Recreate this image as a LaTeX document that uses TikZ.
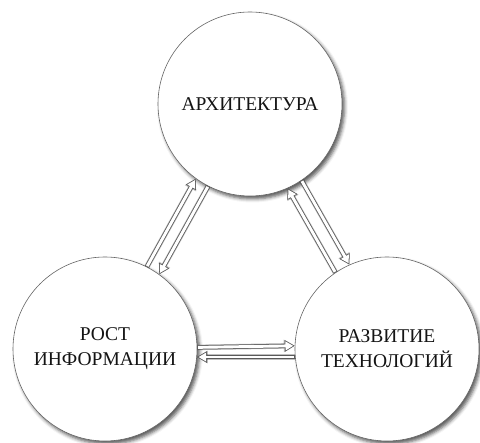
\documentclass[tikz,border=0pt]{standalone}
\usepackage{fontspec}
\setmainfont{Liberation Serif}
\usetikzlibrary{arrows.meta,shadows.blur}
\tikzset{
  bubble/.style={circle, minimum size=184pt, inner sep=0pt, draw=black!60, line width=0.6pt,
    fill=white, align=center, text=black!92, font=\fontsize{19.5}{25}\selectfont,
    blur shadow={shadow xshift=2.5pt, shadow yshift=-3pt, shadow blur radius=3.5pt, shadow opacity=65}},
  arrshadow/.style={draw=black, opacity=0.25, line width=5.5pt, xshift=2pt, yshift=-2.5pt,
    -{Triangle[length=11pt,width=12pt]}},
  arrout/.style={draw=black!65, line width=4.4pt, -{Triangle[length=10pt,width=11pt]}},
  arrin/.style={draw=white, line width=2.9pt, shorten >=1.55pt, shorten <=0.75pt,
    -{Triangle[length=7.7pt,width=8.5pt]}},
}
\newcommand{\hollowarrow}[2]{%
  \draw[arrshadow] (#1) -- (#2);
  \draw[arrout] (#1) -- (#2);
  \draw[arrin] (#1) -- (#2);
}
\begin{document}
\begin{tikzpicture}[x=1pt,y=-1pt]
\useasboundingbox (0,0) rectangle (480,443);
\node[bubble] (T) at (250,104) {АРХИТЕКТУРА};
\node[bubble] (L) at (105,349) {РОСТ\\ИНФОРМАЦИИ};
\node[bubble] (R) at (387,349) {РАЗВИТИЕ\\ТЕХНОЛОГИЙ};
\hollowarrow{L.63.9}{T.234.5}
\hollowarrow{T.243.9}{L.54.5}
\hollowarrow{R.124.1}{T.294.7}
\hollowarrow{T.304.1}{R.114.7}
\hollowarrow{L.1.9}{R.178.1}
\hollowarrow{R.185.6}{L.-5.6}
\end{tikzpicture}
\end{document}
